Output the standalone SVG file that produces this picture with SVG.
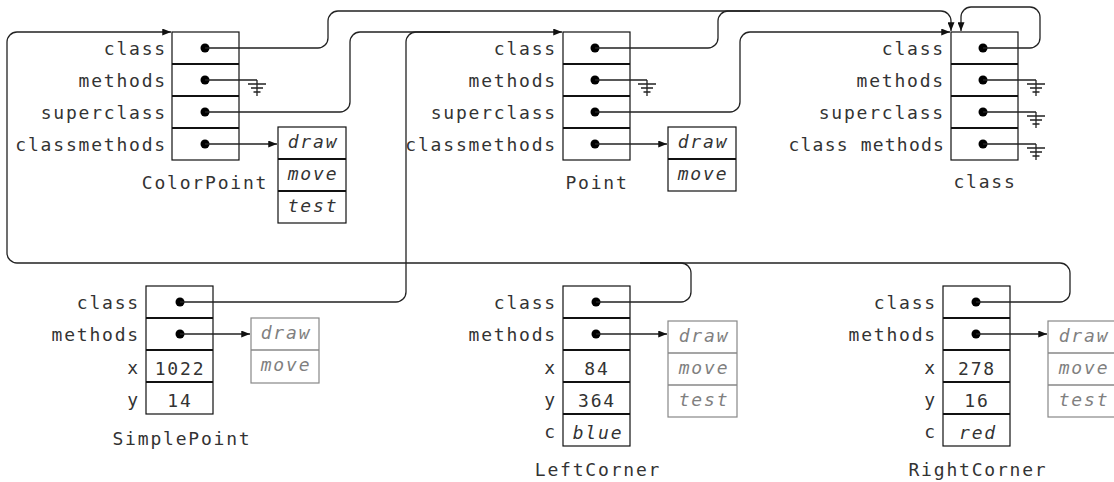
<svg xmlns="http://www.w3.org/2000/svg" width="1114" height="482" viewBox="0 0 1114 482">
<style>
  text { font-family: "DejaVu Sans Mono", "Liberation Mono", monospace; font-size: 18px; fill: #333; letter-spacing: 1.8px; }
  .lbl { text-anchor: end; }
  .mid { text-anchor: middle; }
  .it { font-style: italic; }
  .gray { fill: #808080; }
  .box { fill: #fff; stroke: #111; stroke-width: 1.2; }
  .sep { stroke: #111; stroke-width: 2; }
  .gbox { fill: #fff; stroke: #888; stroke-width: 1.2; }
  .gsep { stroke: #888; stroke-width: 1.6; }
  .conn { fill: none; stroke: #222; stroke-width: 1.3; }
  .dot { fill: #000; }
</style>
<defs>
  <marker id="ar" viewBox="0 0 10 8" refX="10" refY="4" markerWidth="9" markerHeight="7" markerUnits="userSpaceOnUse" orient="auto">
    <path d="M0,0 L10,4 L0,8 Z" fill="#111"/>
  </marker>
  <g id="gnd"><path d="M0,0 V16 M-9,4 H9 M-6,8 H6 M-3.5,12 H3.5" fill="none" stroke="#222" stroke-width="1.3"/></g>
</defs>

<!-- ColorPoint -->
<g id="ColorPoint">
  <rect class="box" x="172" y="32" width="67" height="128"/>
  <path class="sep" d="M172,64 H239 M172,96 H239 M172,128 H239"/>
  <text class="lbl" x="167" y="55">class</text>
  <text class="lbl" x="167" y="87">methods</text>
  <text class="lbl" x="167" y="119">superclass</text>
  <text class="lbl" x="167" y="151">classmethods</text>
  <circle class="dot" cx="205" cy="48" r="4.5"/>
  <circle class="dot" cx="205" cy="80" r="4.5"/>
  <circle class="dot" cx="205" cy="112" r="4.5"/>
  <circle class="dot" cx="205" cy="144" r="4.5"/>
  <text class="mid" x="205" y="189">ColorPoint</text>
</g>
<g id="ColorPoint-methods">
  <rect class="box" x="278" y="127" width="68" height="96"/>
  <path class="sep" d="M278,159 H346 M278,191 H346"/>
  <text class="mid it" x="313" y="148">draw</text>
  <text class="mid it" x="313" y="180">move</text>
  <text class="mid it" x="313" y="212">test</text>
</g>

<!-- Point -->
<g id="Point">
  <rect class="box" x="563" y="32" width="67" height="128"/>
  <path class="sep" d="M563,64 H630 M563,96 H630 M563,128 H630"/>
  <text class="lbl" x="557" y="55">class</text>
  <text class="lbl" x="557" y="87">methods</text>
  <text class="lbl" x="557" y="119">superclass</text>
  <text class="lbl" x="557" y="151">classmethods</text>
  <circle class="dot" cx="595" cy="48" r="4.5"/>
  <circle class="dot" cx="595" cy="80" r="4.5"/>
  <circle class="dot" cx="595" cy="112" r="4.5"/>
  <circle class="dot" cx="595" cy="144" r="4.5"/>
  <text class="mid" x="597" y="189">Point</text>
</g>
<g id="Point-methods">
  <rect class="box" x="668" y="127" width="68" height="64"/>
  <path class="sep" d="M668,159 H736"/>
  <text class="mid it" x="703" y="148">draw</text>
  <text class="mid it" x="703" y="180">move</text>
</g>

<!-- class -->
<g id="class">
  <rect class="box" x="951" y="32" width="67" height="128"/>
  <path class="sep" d="M951,64 H1018 M951,96 H1018 M951,128 H1018"/>
  <text class="lbl" x="945" y="55">class</text>
  <text class="lbl" x="945" y="87">methods</text>
  <text class="lbl" x="945" y="119">superclass</text>
  <text class="lbl" x="945" y="151" style="letter-spacing:1.2px">class methods</text>
  <circle class="dot" cx="983" cy="48" r="4.5"/>
  <circle class="dot" cx="983" cy="80" r="4.5"/>
  <circle class="dot" cx="983" cy="112" r="4.5"/>
  <circle class="dot" cx="983" cy="144" r="4.5"/>
  <text class="mid" x="985" y="188">class</text>
</g>

<!-- SimplePoint -->
<g id="SimplePoint">
  <rect class="box" x="146" y="286" width="67" height="128"/>
  <path class="sep" d="M146,318 H213 M146,350 H213 M146,382 H213"/>
  <text class="lbl" x="140" y="309">class</text>
  <text class="lbl" x="140" y="341">methods</text>
  <text class="lbl" x="140" y="374">x</text>
  <text class="lbl" x="140" y="406">y</text>
  <circle class="dot" cx="180" cy="302" r="4.5"/>
  <circle class="dot" cx="180" cy="334" r="4.5"/>
  <text class="mid" x="180" y="375">1022</text>
  <text class="mid" x="180" y="407">14</text>
  <text class="mid" x="182" y="445">SimplePoint</text>
</g>
<g id="SimplePoint-methods">
  <rect class="gbox" x="251" y="318" width="68" height="65"/>
  <path class="gsep" d="M251,350 H319"/>
  <text class="mid it gray" x="286" y="339">draw</text>
  <text class="mid it gray" x="286" y="371">move</text>
</g>

<!-- LeftCorner -->
<g id="LeftCorner">
  <rect class="box" x="563" y="286" width="67" height="160"/>
  <path class="sep" d="M563,318 H630 M563,350 H630 M563,382 H630 M563,414 H630"/>
  <text class="lbl" x="557" y="309">class</text>
  <text class="lbl" x="557" y="341">methods</text>
  <text class="lbl" x="557" y="374">x</text>
  <text class="lbl" x="557" y="406">y</text>
  <text class="lbl" x="557" y="438">c</text>
  <circle class="dot" cx="596" cy="302" r="4.5"/>
  <circle class="dot" cx="596" cy="334" r="4.5"/>
  <text class="mid" x="597" y="375">84</text>
  <text class="mid" x="597" y="407">364</text>
  <text class="mid it" x="598" y="439">blue</text>
  <text class="mid" x="598" y="476">LeftCorner</text>
</g>
<g id="LeftCorner-methods">
  <rect class="gbox" x="668" y="321" width="69" height="96"/>
  <path class="gsep" d="M668,353 H737 M668,385 H737"/>
  <text class="mid it gray" x="704" y="342">draw</text>
  <text class="mid it gray" x="704" y="374">move</text>
  <text class="mid it gray" x="704" y="406">test</text>
</g>

<!-- RightCorner -->
<g id="RightCorner">
  <rect class="box" x="943" y="286" width="67" height="160"/>
  <path class="sep" d="M943,318 H1010 M943,350 H1010 M943,382 H1010 M943,414 H1010"/>
  <text class="lbl" x="937" y="309">class</text>
  <text class="lbl" x="937" y="341">methods</text>
  <text class="lbl" x="937" y="374">x</text>
  <text class="lbl" x="937" y="406">y</text>
  <text class="lbl" x="937" y="438">c</text>
  <circle class="dot" cx="976" cy="302" r="4.5"/>
  <circle class="dot" cx="976" cy="334" r="4.5"/>
  <text class="mid" x="977" y="375">278</text>
  <text class="mid" x="977" y="407">16</text>
  <text class="mid it" x="978" y="439">red</text>
  <text class="mid" x="978" y="476">RightCorner</text>
</g>
<g id="RightCorner-methods">
  <rect class="gbox" x="1048" y="321" width="70" height="96"/>
  <path class="gsep" d="M1048,353 H1118 M1048,385 H1118"/>
  <text class="mid it gray" x="1084" y="342">draw</text>
  <text class="mid it gray" x="1084" y="374">move</text>
  <text class="mid it gray" x="1084" y="406">test</text>
</g>

<!-- connectors -->
<g id="connectors">
  <path class="conn" d="M205,48 H318 A10,10 0 0 0 328,38 V21 A10,10 0 0 1 338,11 H941 A10,10 0 0 1 951,21 V31" marker-end="url(#ar)"/>
  <path class="conn" d="M595,48 H708 A10,10 0 0 0 718,38 V21 A10,10 0 0 1 728,11 H760"/>
  <path class="conn" d="M205,112 H340 A10,10 0 0 0 350,102 V42 A10,10 0 0 1 360,32 H562" marker-end="url(#ar)"/>
  <path class="conn" d="M180,302 H396 A10,10 0 0 0 406,292 V42 A10,10 0 0 1 416,32 H450"/>
  <path class="conn" d="M595,112 H730 A10,10 0 0 0 740,102 V42 A10,10 0 0 1 750,32 H950" marker-end="url(#ar)"/>
  <path class="conn" d="M983,48 H1030 A10,10 0 0 0 1040,38 V17 A10,10 0 0 0 1030,7 H971 A10,10 0 0 0 961,17 V31" marker-end="url(#ar)"/>
  <path class="conn" d="M976,302 H1060 A10,10 0 0 0 1070,292 V273 A10,10 0 0 0 1060,263 H17 A10,10 0 0 1 7,253 V42 A10,10 0 0 1 17,32 H171" marker-end="url(#ar)"/>
  <path class="conn" d="M596,302 H681 A10,10 0 0 0 691,292 V273 A10,10 0 0 0 681,263 H640"/>
  <path class="conn" d="M205,144 H277" marker-end="url(#ar)"/>
  <path class="conn" d="M595,144 H667" marker-end="url(#ar)"/>
  <path class="conn" d="M180,334 H250" marker-end="url(#ar)"/>
  <path class="conn" d="M596,334 H667" marker-end="url(#ar)"/>
  <path class="conn" d="M976,334 H1047" marker-end="url(#ar)"/>
  <path class="conn" d="M205,80 H257 M595,80 H647 M983,80 H1036 M983,112 H1036 M983,144 H1036"/>
  <use href="#gnd" x="257" y="80"/>
  <use href="#gnd" x="647" y="80"/>
  <use href="#gnd" x="1036" y="80"/>
  <use href="#gnd" x="1036" y="112"/>
  <use href="#gnd" x="1036" y="144"/>
</g>
</svg>
